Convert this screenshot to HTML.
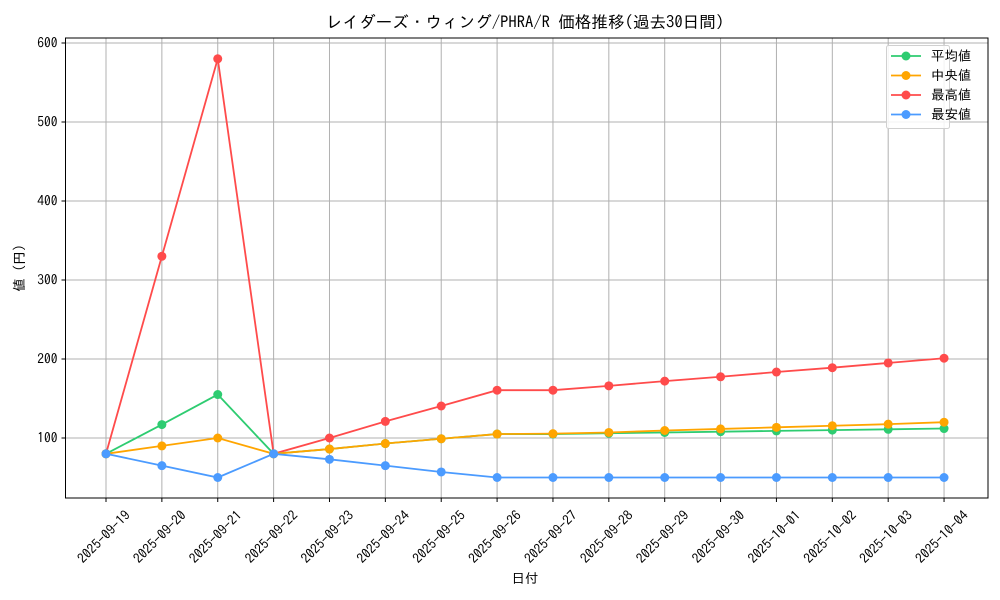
<!DOCTYPE html>
<html><head><meta charset="utf-8"><style>
body{margin:0;background:#fff}
svg{display:block;font-family:"IPAGothic","Noto Sans CJK JP",sans-serif}
</style></head><body>
<svg id="s" width="1000" height="600" xmlns="http://www.w3.org/2000/svg"></svg>
<script>
const s=document.getElementById('s');
let h='';
const L=65.5,R=988,T=38,B=498;
const X=i=>106+i*55.87, Y=v=>438-(v-100)*0.79;
const dates=['2025-09-19','2025-09-20','2025-09-21','2025-09-22','2025-09-23','2025-09-24','2025-09-25','2025-09-26','2025-09-27','2025-09-28','2025-09-29','2025-09-30','2025-10-01','2025-10-02','2025-10-03','2025-10-04'];
dates.forEach((d,i)=>{const x=X(i);h+=`<line x1="${x}" y1="${T}" x2="${x}" y2="${B}" stroke="#b0b0b0" stroke-width="1"/>`;
h+=`<line x1="${x}" y1="${B}" x2="${x}" y2="${B+4}" stroke="#000"/>`;
h+=`<text x="${x-1}" y="${541}" font-size="13.5" text-anchor="middle" transform="rotate(-45 ${x-1} 538)">${d}</text>`;});
[100,200,300,400,500,600].forEach(v=>{const y=Y(v);h+=`<line x1="${L}" y1="${y}" x2="${R}" y2="${y}" stroke="#b0b0b0"/>`;
h+=`<line x1="${L-4}" y1="${y}" x2="${L}" y2="${y}" stroke="#000"/>`;
h+=`<text x="${L-8}" y="${y+4.5}" font-size="13.5" text-anchor="end">${v}</text>`;});
const series=[
['#ff4b4b',[80,330,580,80,100,121,140.5,160.5,160.5,166,172,177.5,183.5,189,195,201]],
['#2ecc71',[80,117,155,80,86,93,99,105,105,106,107,108,109,110,111,112]],
['#ffa500',[80,90,100,80,86,93,99,105,105.5,107,109.5,111.5,113.5,115.5,117.5,120]],
['#4b9bff',[80,65,50,80,73,65,57,50,50,50,50,50,50,50,50,50]]];
series.forEach(([c,d])=>{h+=`<polyline fill="none" stroke="${c}" stroke-width="1.8" points="${d.map((v,i)=>X(i)+','+Y(v)).join(' ')}"/>`;
d.forEach((v,i)=>h+=`<circle cx="${X(i)}" cy="${Y(v)}" r="4.5" fill="${c}"/>`);});
h+=`<rect x="${L}" y="${T}" width="${R-L}" height="${B-T}" fill="none" stroke="#000" stroke-width="1"/>`;
h+=`<text x="525" y="28" font-size="16.6" text-anchor="middle">レイダーズ・ウィング/PHRA/R 価格推移(過去30日間)</text>`;
h+=`<text x="525" y="583" font-size="13.5" text-anchor="middle">日付</text>`;
h+=`<text x="24" y="268" font-size="13.5" text-anchor="middle" transform="rotate(-90 24 268)">値 (円)</text>`;
h+=`<rect x="886.5" y="45.5" width="63" height="83" rx="2" fill="#fff" fill-opacity="0.85" stroke="#d0d0d0"/>`;
[['#2ecc71','平均値'],['#ffa500',' 中央値'],['#ff4b4b','最高値'],['#4b9bff','最安値']].forEach(([c,t],i)=>{const y=56+i*19.5;
h+=`<line x1="891" y1="${y}" x2="921" y2="${y}" stroke="${c}" stroke-width="1.8"/><circle cx="906" cy="${y}" r="4.5" fill="${c}"/>`;
h+=`<text x="931" y="${y+4.5}" font-size="13.5">${t}</text>`;});
s.innerHTML=h;
</script>
</body></html>
